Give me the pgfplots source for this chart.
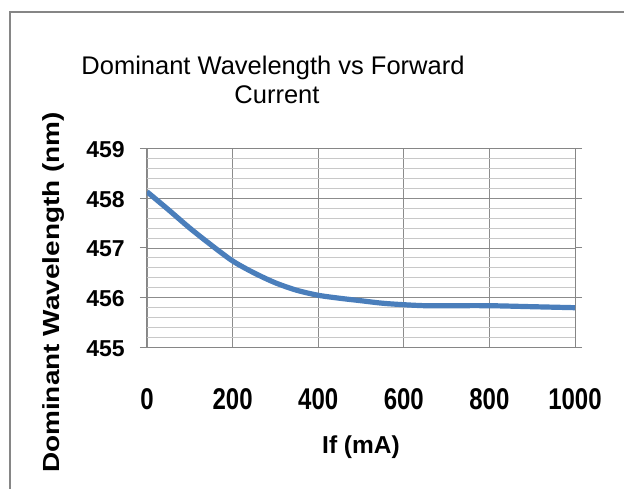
\documentclass[border=0pt]{standalone}
\usepackage{fontspec}
\setmainfont{Liberation Sans}
\newfontfamily\xtickfont[FakeStretch=0.8]{Liberation Sans Bold}
\newfontfamily\ytickfont{Liberation Sans Bold}
\newfontfamily\ylabfont[FakeStretch=1.2]{Liberation Sans Bold}
\newfontfamily\xlabfont{Liberation Sans Bold}
\usepackage{pgfplots}
\pgfplotsset{compat=1.18}

\definecolor{excelblue}{RGB}{74,126,187}
\definecolor{gridmajor}{RGB}{140,140,140}
\definecolor{gridminor}{RGB}{200,200,200}
\definecolor{framegray}{RGB}{134,134,134}

\begin{document}
\begin{tikzpicture}
  \begin{axis}[
    scale only axis,
    width=428pt, height=199pt,
    xmin=0, xmax=1000,
    ymin=455, ymax=459,
    xtick={0,200,400,600,800,1000},
    ytick={455,456,457,458,459},
    minor y tick num=4,
    grid=both,
    major grid style={gridmajor, line width=0.9pt},
    minor grid style={gridminor, line width=0.9pt},
    axis line style={framegray, line width=1pt},
    tick align=outside,
    major tick length=7pt,
    minor tick length=0pt,
    xtick style={draw=none},
    ytick style={framegray, line width=1pt},
    /pgf/number format/assume math mode=true,
    /pgf/number format/1000 sep={},
    xticklabel style={font=\fontsize{30}{30}\xtickfont, anchor=base, yshift=-55pt, inner sep=0pt},
    yticklabel style={font=\fontsize{23}{23}\ytickfont, anchor=east, xshift=-15pt, yshift=-1pt, inner sep=0pt},
  ]
    \addplot[excelblue, line width=5.2pt, smooth] coordinates {
      (0,458.13)
      (50,457.77)
      (100,457.40)
      (150,457.06)
      (200,456.74)
      (250,456.50)
      (300,456.30)
      (350,456.15)
      (400,456.05)
      (450,455.99)
      (500,455.94)
      (550,455.89)
      (600,455.86)
      (650,455.84)
      (700,455.84)
      (800,455.84)
      (900,455.82)
      (1000,455.80)
    };
  \end{axis}
  % titles and labels
  \node[anchor=base, inner sep=0pt, font=\fontsize{25.5}{25.5}\selectfont] at (126pt,272.5pt) {Dominant Wavelength vs Forward};
  \node[anchor=base, inner sep=0pt, font=\fontsize{25.5}{25.5}\selectfont] at (130pt,244pt) {Current};
  \node[anchor=base, inner sep=0pt, rotate=90, font=\fontsize{23.3}{23.3}\ylabfont] at (-87pt,55pt) {Dominant Wavelength (nm)};
  \node[anchor=base, inner sep=0pt, font=\fontsize{24.5}{24.5}\xlabfont] at (214pt,-106pt) {If (mA)};
  % outer chart frame
  \draw[framegray, line width=2pt] (-137pt,-160pt) -- (-137pt,335.5pt) -- (500pt,335.5pt);
  \pgfresetboundingbox
  \useasboundingbox (-147pt,-141.5pt) rectangle (477pt,347.5pt);
\end{tikzpicture}
\end{document}
